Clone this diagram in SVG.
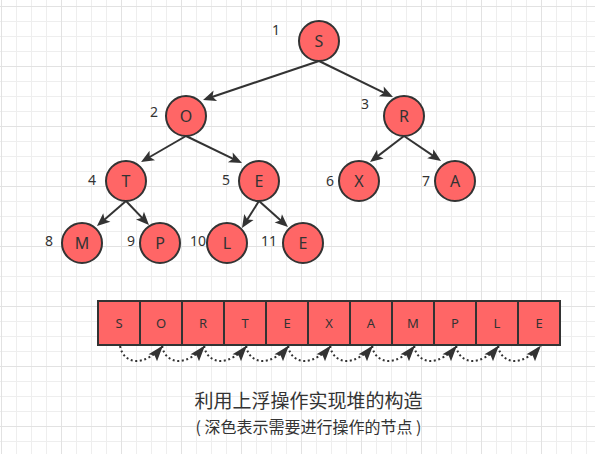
<svg xmlns="http://www.w3.org/2000/svg" width="595" height="454" viewBox="0 0 595 454">
<style>
.node circle{fill:#ff6666;stroke:#333;stroke-width:2}
.node text{font-family:"Noto Sans","Open Sans",sans-serif;font-size:16px;fill:#333;text-anchor:middle}
.num{font-family:"Noto Sans","Open Sans",sans-serif;font-size:14px;fill:#333;text-anchor:middle}
.edge{fill:none;stroke:#333;stroke-width:2}
.dot{fill:none;stroke:#333;stroke-width:2;stroke-dasharray:2 2.6}
.cell rect{fill:#ff6666;stroke:#333;stroke-width:2}
.cell text{font-family:"Noto Sans","Open Sans",sans-serif;font-size:13px;fill:#333;text-anchor:middle}
.cap{font-family:"Noto Sans CJK SC","Microsoft YaHei",sans-serif;fill:#333;text-anchor:middle}
</style>
<defs>
<pattern id="grid" patternUnits="userSpaceOnUse" x="1" y="6" width="60" height="60">
<path d="M15.5 0V60M30.5 0V60M45.5 0V60M0 15.5H60M0 30.5H60M0 45.5H60" stroke="#eeeeee" stroke-width="1" fill="none"/>
<path d="M0.5 0V60M0 0.5H60" stroke="#e2e2e2" stroke-width="1" fill="none"/>
</pattern>
<marker id="arr" markerUnits="userSpaceOnUse" markerWidth="14" markerHeight="12" refX="9" refY="5.5" orient="auto" overflow="visible">
<path d="M0,0 L13,5.5 L0,11 L3,5.5 Z" fill="#333"/>
</marker>
<marker id="darr" markerUnits="userSpaceOnUse" markerWidth="17" markerHeight="12" refX="16" refY="5.5" orient="auto" overflow="visible">
<path d="M0,0 L16,5.5 L0,11 L3,5.5 Z" fill="#333"/>
</marker>
</defs>
<rect width="595" height="454" fill="#ffffff"/>
<rect width="595" height="454" fill="url(#grid)"/>

<g id="connectors">
<path class="edge" d="M319,61 L206.8,98.7" marker-end="url(#arr)"/>
<path class="edge" d="M319,61 L389.4,95.3" marker-end="url(#arr)"/>
<path class="edge" d="M186,136 L144.5,160" marker-end="url(#arr)"/>
<path class="edge" d="M186,136 L238.4,161.3" marker-end="url(#arr)"/>
<path class="edge" d="M404,136 L373.2,159.6" marker-end="url(#arr)"/>
<path class="edge" d="M404,136 L437.7,158.8" marker-end="url(#arr)"/>
<path class="edge" d="M126,201 L100,223.4" marker-end="url(#arr)"/>
<path class="edge" d="M126,201 L146.2,222.1" marker-end="url(#arr)"/>
<path class="edge" d="M259,201 L244.1,224.6" marker-end="url(#arr)"/>
<path class="edge" d="M259,201 L285,224.3" marker-end="url(#arr)"/>
<g id="array-arrows">
<path class="dot" d="M120,346 C124,366 146,366 163,345.5" marker-end="url(#darr)"/>
<path class="dot" d="M162,346 C166,366 188,366 205,345.5" marker-end="url(#darr)"/>
<path class="dot" d="M204,346 C208,366 230,366 247,345.5" marker-end="url(#darr)"/>
<path class="dot" d="M246,346 C250,366 272,366 289,345.5" marker-end="url(#darr)"/>
<path class="dot" d="M288,346 C292,366 314,366 331,345.5" marker-end="url(#darr)"/>
<path class="dot" d="M330,346 C334,366 356,366 373,345.5" marker-end="url(#darr)"/>
<path class="dot" d="M372,346 C376,366 398,366 415,345.5" marker-end="url(#darr)"/>
<path class="dot" d="M414,346 C418,366 440,366 457,345.5" marker-end="url(#darr)"/>
<path class="dot" d="M456,346 C460,366 482,366 499,345.5" marker-end="url(#darr)"/>
<path class="dot" d="M498,346 C502,366 524,366 541,345.5" marker-end="url(#darr)"/>
</g>
</g>

<g id="n1" class="node"><circle cx="319" cy="41" r="20"/><text x="319" y="47">S</text></g>
<g id="n2" class="node"><circle cx="186" cy="116" r="20"/><text x="186" y="122">O</text></g>
<g id="n3" class="node"><circle cx="404" cy="116" r="20"/><text x="404" y="122">R</text></g>
<g id="n4" class="node"><circle cx="126" cy="181" r="20"/><text x="126" y="187">T</text></g>
<g id="n5" class="node"><circle cx="259" cy="181" r="20"/><text x="259" y="187">E</text></g>
<g id="n6" class="node"><circle cx="359" cy="181" r="20"/><text x="359" y="187">X</text></g>
<g id="n7" class="node"><circle cx="455" cy="181" r="20"/><text x="455" y="187">A</text></g>
<g id="n8" class="node"><circle cx="82" cy="243" r="20"/><text x="82" y="249">M</text></g>
<g id="n9" class="node"><circle cx="160" cy="243" r="20"/><text x="160" y="249">P</text></g>
<g id="n10" class="node"><circle cx="227" cy="243" r="20"/><text x="227" y="249">L</text></g>
<g id="n11" class="node"><circle cx="303" cy="243" r="20"/><text x="303" y="249">E</text></g>

<g id="numbers">
<text class="num" x="276" y="35">1</text>
<text class="num" x="154" y="117">2</text>
<text class="num" x="365" y="109">3</text>
<text class="num" x="92" y="185">4</text>
<text class="num" x="226" y="185">5</text>
<text class="num" x="330" y="186">6</text>
<text class="num" x="426" y="186">7</text>
<text class="num" x="49" y="246">8</text>
<text class="num" x="131" y="246">9</text>
<text class="num" x="198" y="246">10</text>
<text class="num" x="269" y="246">11</text>
</g>

<g id="array" class="cell">
<rect x="98" y="301" width="42" height="44"/><text x="119" y="328">S</text>
<rect x="140" y="301" width="42" height="44"/><text x="161" y="328">O</text>
<rect x="182" y="301" width="42" height="44"/><text x="203" y="328">R</text>
<rect x="224" y="301" width="42" height="44"/><text x="245" y="328">T</text>
<rect x="266" y="301" width="42" height="44"/><text x="287" y="328">E</text>
<rect x="308" y="301" width="42" height="44"/><text x="329" y="328">X</text>
<rect x="350" y="301" width="42" height="44"/><text x="371" y="328">A</text>
<rect x="392" y="301" width="42" height="44"/><text x="413" y="328">M</text>
<rect x="434" y="301" width="42" height="44"/><text x="455" y="328">P</text>
<rect x="476" y="301" width="42" height="44"/><text x="497" y="328">L</text>
<rect x="518" y="301" width="42" height="44"/><text x="539" y="328">E</text>
</g>

<g id="caption">
<text class="cap" x="308.5" y="408" font-size="19">利用上浮操作实现堆的构造</text>
<text class="cap" x="308.5" y="433" font-size="16">( 深色表示需要进行操作的节点 )</text>
</g>
</svg>
